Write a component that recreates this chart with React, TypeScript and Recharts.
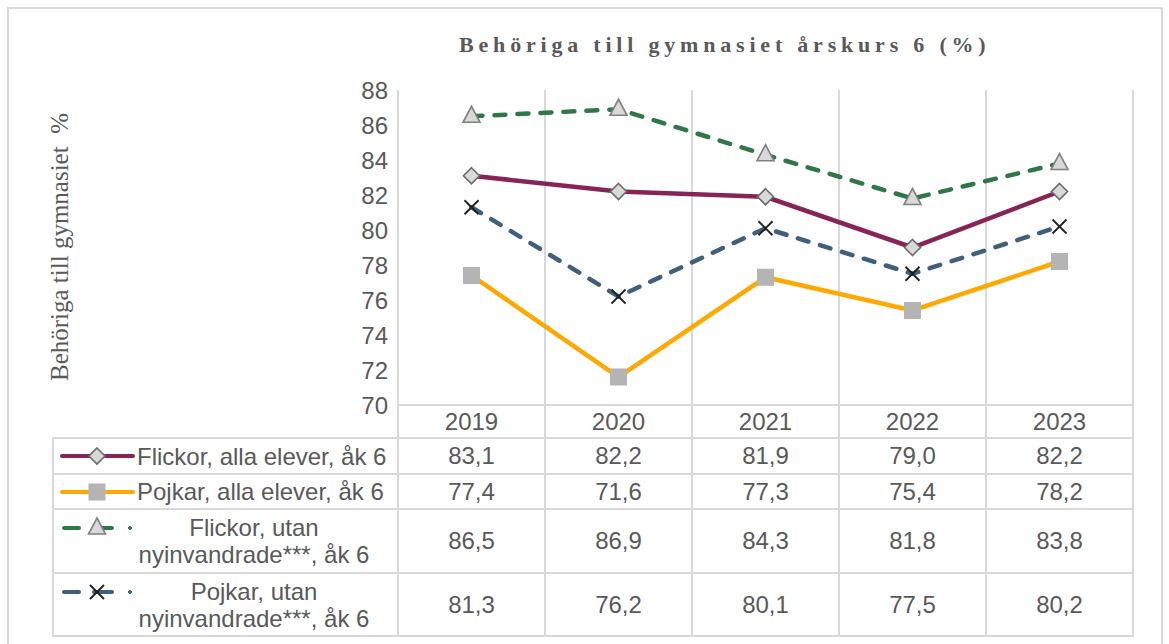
import React from "react";
import { LineChart, Line, XAxis, YAxis, ReferenceLine } from "recharts";

const years = ["2019", "2020", "2021", "2022", "2023"];
const flickorAlla = [83.1, 82.2, 81.9, 79.0, 82.2];
const pojkarAlla = [77.4, 71.6, 77.3, 75.4, 78.2];
const flickorUtan = [86.5, 86.9, 84.3, 81.8, 83.8];
const pojkarUtan = [81.3, 76.2, 80.1, 77.5, 80.2];
const yTicks = [70, 72, 74, 76, 78, 80, 82, 84, 86, 88];

const title = "Behöriga till gymnasiet årskurs 6 (%)";
const yLabel = "Behöriga till gymnasiet\u00a0\u00a0%";

type Kind = "diamond" | "square" | "triangle" | "x";

const series = [
  { key: "flickorAlla", values: flickorAlla, label: ["Flickor, alla elever, åk 6"], color: "#862457", dashed: false, marker: "diamond" as Kind },
  { key: "pojkarAlla", values: pojkarAlla, label: ["Pojkar, alla elever, åk 6"], color: "#FFA800", dashed: false, marker: "square" as Kind },
  { key: "flickorUtan", values: flickorUtan, label: ["Flickor, utan", "nyinvandrade***, åk 6"], color: "#2F7749", dashed: true, marker: "triangle" as Kind },
  { key: "pojkarUtan", values: pojkarUtan, label: ["Pojkar, utan", "nyinvandrade***, åk 6"], color: "#3F5F7C", dashed: true, marker: "x" as Kind },
];

const data = years.map((year, i) => {
  const row: any = { x: i + 0.5, year };
  series.forEach((s) => (row[s.key] = s.values[i]));
  return row;
});

// layout, in page pixels (body margin removed below)
const W = 1169;
const CH = 448;
const PLOT_L = 398;
const PLOT_R = 1133;
const PLOT_T = 90;
const PLOT_B = 405;
const COL_W = (PLOT_R - PLOT_L) / years.length;
const TABLE_L = 53;
const rowLines = [438, 474, 509, 573, 636];
const GRID = "#d9d9d9";
const TEXT = "#595959";
const SANS = "'Liberation Sans', Arial, sans-serif";
const SERIF = "'Liberation Serif', 'Times New Roman', serif";

const fmt = (v: number) => v.toFixed(1).replace(".", ",");

const Marker = ({ kind, cx, cy }: { kind: Kind; cx: number; cy: number }) => {
  if (kind === "diamond") {
    const r = 8;
    return (
      <polygon
        points={`${cx},${cy - r} ${cx + r},${cy} ${cx},${cy + r} ${cx - r},${cy}`}
        fill="#d9d9d9"
        stroke="#6b6b6b"
        strokeWidth={1.6}
      />
    );
  }
  if (kind === "square") {
    return <rect x={cx - 8.5} y={cy - 8.5} width={17} height={17} fill="#b4b4b4" />;
  }
  if (kind === "triangle") {
    return (
      <polygon
        points={`${cx},${cy - 10} ${cx + 8.5},${cy + 6} ${cx - 8.5},${cy + 6}`}
        fill="#d9d9d9"
        stroke="#808080"
        strokeWidth={1.6}
      />
    );
  }
  return (
    <g stroke="#1f1f1f" strokeWidth={1.8}>
      <line x1={cx - 7} y1={cy - 7} x2={cx + 7} y2={cy + 7} />
      <line x1={cx - 7} y1={cy + 7} x2={cx + 7} y2={cy - 7} />
    </g>
  );
};

const LegendSymbol = ({ s }: { s: (typeof series)[number] }) => (
  <svg width={80} height={24} style={{ display: "block" }}>
    {s.dashed ? (
      <g stroke={s.color} strokeWidth={4} strokeLinecap="round">
        <line x1={6} y1={12} x2={21} y2={12} />
        <line x1={36} y1={12} x2={54} y2={12} />
        <circle cx={72} cy={12} r={1.5} fill={s.color} strokeWidth={1} />
      </g>
    ) : (
      <line x1={4} y1={12} x2={75} y2={12} stroke={s.color} strokeWidth={4} strokeLinecap="round" />
    )}
    <Marker kind={s.marker} cx={39} cy={12} />
  </svg>
);

const hLine = (y: number, x1: number, x2: number, key: string) => (
  <div key={key} style={{ position: "absolute", left: x1 - 1, top: y - 1, width: x2 - x1 + 2, height: 2, background: GRID }} />
);
const vLine = (x: number, y1: number, y2: number, key: string) => (
  <div key={key} style={{ position: "absolute", left: x - 1, top: y1 - 1, width: 2, height: y2 - y1 + 2, background: GRID }} />
);

export default function App() {
  const bounds = years.map((_, i) => i).concat(years.length);
  const colX = bounds.map((i) => PLOT_L + i * COL_W);
  return (
    <div style={{ position: "relative", width: W, height: 644, overflow: "hidden", fontFamily: SANS, color: TEXT, background: "#fff" }}>
      <style>{`body{margin:0}`}</style>
      <div
        style={{
          position: "absolute",
          left: 7,
          top: 7,
          width: 1156,
          height: 660,
          border: `2px solid ${GRID}`,
          boxSizing: "border-box",
        }}
      />
      <div
        style={{
          position: "absolute",
          left: 420,
          top: 30,
          width: 600,
          textAlign: "center",
          fontFamily: SERIF,
          fontWeight: "bold",
          fontSize: 22,
          letterSpacing: 4.8,
          paddingLeft: 4.8,
          lineHeight: "30px",
          whiteSpace: "nowrap",
        }}
      >
        {title}
      </div>
      <div
        style={{
          position: "absolute",
          left: 60 - 160,
          top: 247 - 15,
          width: 320,
          height: 30,
          lineHeight: "30px",
          textAlign: "center",
          transform: "rotate(-90deg)",
          fontFamily: SERIF,
          fontSize: 25,
          whiteSpace: "pre",
        }}
      >
        {yLabel}
      </div>

      <div style={{ position: "absolute", left: 0, top: 0 }}>
        <LineChart width={W} height={CH} data={data} margin={{ top: PLOT_T, right: W - PLOT_R, left: PLOT_L - 60, bottom: CH - PLOT_B - 33 }}>
          {bounds.map((b) => (
            <ReferenceLine key={`v${b}`} x={b} stroke={GRID} strokeWidth={2} ifOverflow="extendDomain" />
          ))}
          <XAxis
            dataKey="x"
            type="number"
            domain={[0, years.length]}
            ticks={data.map((d) => d.x)}
            tickFormatter={(v: number) => years[Math.floor(v)]}
            height={33}
            tickLine={false}
            tickSize={0}
            tickMargin={8}
            axisLine={{ stroke: GRID, strokeWidth: 2 }}
            tick={{ fill: TEXT, fontSize: 24, fontFamily: SANS }}
            interval={0}
          />
          <YAxis
            type="number"
            domain={[70, 88]}
            ticks={yTicks}
            width={60}
            axisLine={false}
            tickLine={false}
            tickSize={0}
            tickMargin={10}
            tick={{ fill: TEXT, fontSize: 24, fontFamily: SANS }}
            interval={0}
          />
          {series.map((s) => (
            <Line
              key={s.key}
              dataKey={s.key}
              type="linear"
              stroke={s.color}
              strokeWidth={4.5}
              strokeDasharray={s.dashed ? "11 12" : undefined}
              strokeLinecap={s.dashed ? "round" : "butt"}
              isAnimationActive={false}
              dot={(p: any) => <Marker key={`${s.key}-${p.index}`} kind={s.marker} cx={p.cx} cy={p.cy} />}
              activeDot={false}
            />
          ))}
        </LineChart>
      </div>

      {/* data table below the axis */}
      {colX.map((x, i) => vLine(x, PLOT_B, rowLines[rowLines.length - 1], `cv${i}`))}
      {vLine(TABLE_L, rowLines[0], rowLines[rowLines.length - 1], "lv")}
      {rowLines.map((y, i) => hLine(y, TABLE_L, PLOT_R, `rh${i}`))}

      {series.map((s, r) => {
        const top = rowLines[r];
        const h = rowLines[r + 1] - top;
        const two = s.label.length > 1;
        return (
          <React.Fragment key={s.key}>
            <div style={{ position: "absolute", left: 58, top: two ? top + 7 : top + h / 2 - 12 }}>
              <LegendSymbol s={s} />
            </div>
            <div
              style={{
                position: "absolute",
                left: two ? 135 : 137,
                top,
                width: two ? 238 : 270,
                height: h,
                display: "flex",
                flexDirection: "column",
                justifyContent: "center",
                alignItems: two ? "center" : "flex-start",
                fontSize: 24,
                lineHeight: "27px",
                whiteSpace: "nowrap",
              }}
            >
              {s.label.map((l) => (
                <div key={l}>{l}</div>
              ))}
            </div>
            {s.values.map((v, i) => (
              <div
                key={i}
                style={{
                  position: "absolute",
                  left: colX[i],
                  top,
                  width: COL_W,
                  height: h,
                  display: "flex",
                  alignItems: "center",
                  justifyContent: "center",
                  fontSize: 24,
                }}
              >
                {fmt(v)}
              </div>
            ))}
          </React.Fragment>
        );
      })}
    </div>
  );
}
